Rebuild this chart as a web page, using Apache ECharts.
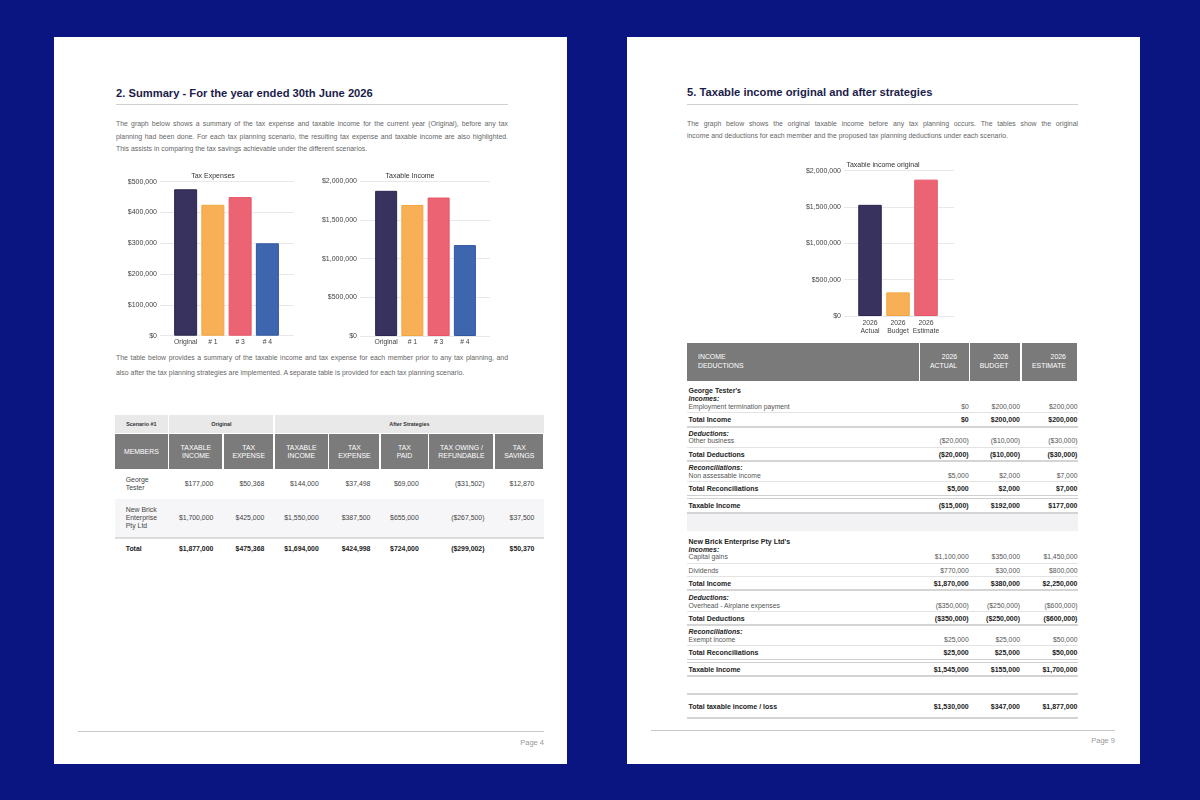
<!DOCTYPE html>
<html>
<head>
<meta charset="utf-8">
<script src="https://cdn.jsdelivr.net/npm/echarts@6/dist/echarts.min.js"></script>
<style>
  html, body { margin:0; padding:0; }
  body { width:1200px; height:800px; background:#0a1582; position:relative; overflow:hidden;
         font-family:'Liberation Sans', Arial, sans-serif; }
  .page { position:absolute; background:#fff; top:37px; height:727px; }
  .hd { position:absolute; font-weight:bold; font-size:11.2px; color:#1c1c4a; line-height:13px; white-space:nowrap; }
  .rule { position:absolute; height:0; border-top:1.5px solid #d0d0d0; }
  .pl { position:absolute; font-size:6.9px; color:#666; white-space:nowrap; line-height:10px;
        text-align:justify; text-align-last:justify; }
  .pl.last { text-align-last:left; text-align:left; }
  .foot { position:absolute; height:0; border-top:1px solid #c8c8c8; }
  .pg { position:absolute; width:100px; text-align:right; font-size:7.5px; color:#999; line-height:10px; }
  .chart { position:absolute; }

  /* left table */
  .lt { position:absolute; left:115px; top:415px; width:429px; font-size:6.9px; color:#444; }
  .lt .row { display:flex; }
  .lt .row > div { margin-right:1.7px; box-sizing:border-box; }
  .lt .row > div:last-child { margin-right:0; }
  .lt .r1 > div { height:18px; background:#e9e9e9; display:flex; align-items:center; justify-content:center;
                  font-size:5.4px; font-weight:bold; color:#333; }
  .lt .r2 { margin-top:1.3px; }
  .lt .r2 > div { height:35px; background:#7b7b7b; color:#fff; display:flex; align-items:center; justify-content:center;
                  text-align:center; line-height:8px; font-size:6.9px; }
  .lt .rd > div { display:flex; align-items:center; justify-content:flex-end; padding-right:9px; line-height:8px; }
  .lt .rd > div:first-child { justify-content:flex-start; padding-left:10.7px; padding-right:0; }
  .lt .w0 { width:52.7px; } .lt .w1 { width:53px; } .lt .w2 { width:49.3px; } .lt .w3 { width:52.7px; }
  .lt .w4 { width:50px; } .lt .w5 { width:46.7px; } .lt .w6 { width:64px; } .lt .w7 { width:48.3px; }
  .lt .g { height:30px; }
  .lt .nb { height:37.4px; background:#f6f6f8; }
  .lt .tl { height:2px; background:#dcdcdc; }
  .lt .tot { height:21.3px; font-weight:bold; color:#222; }

  /* right table */
  .rt { position:absolute; left:686.5px; top:343.3px; width:391px; font-size:6.8px; color:#555; }
  .rt .rh { display:flex; height:37.4px; }
  .rt .rh > div { background:#7a7a7a; color:#fff; font-size:6.9px; line-height:8.7px; display:flex; align-items:center; }
  .rt .rh .c0 { padding-left:11.5px; width:220.5px; }
  .rt .rh .c1, .rt .rh .c2, .rt .rh .c3 { justify-content:flex-end; text-align:right; padding-right:11.5px; box-sizing:border-box; }
  .rt .c0 { width:230px; padding-left:2px; margin-right:1.6px; }
  .rt .c1 { width:48.6px; margin-right:1.6px; text-align:right; }
  .rt .c2 { width:49.7px; margin-right:1.7px; text-align:right; }
  .rt .c3 { width:55.8px; text-align:right; }
  .rt .rr { display:flex; align-items:flex-end; box-sizing:border-box; line-height:7.6px; }
  .rt .thin { border-bottom:1px solid #e3e3e3; }
  .rt .thick { border-bottom:2px solid #d4d4d4; }
  .rt .dbl { border-bottom:4px double #cfcfcf; }
  .rt b { color:#222; font-size:7px; }
  .rt .bt { font-weight:bold; color:#222; font-size:7px; }
</style>
</head>
<body>

<div class="page" style="left:54px; width:513px;"></div>
<div class="page" style="left:627px; width:513px;"></div>

<!-- LEFT PAGE -->
<div class="hd" style="left:116px; top:86.8px;">2. Summary - For the year ended 30th June 2026</div>
<div class="rule" style="left:116px; top:103.6px; width:392px;"></div>
<div class="pl" style="left:116px; top:119.3px; width:392px;">The graph below shows a summary of the tax expense and taxable income for the current year (Original), before any tax</div>
<div class="pl" style="left:116px; top:131.7px; width:392px;">planning had been done. For each tax planning scenario, the resulting tax expense and taxable income are also highlighted.</div>
<div class="pl last" style="left:116px; top:144px; width:392px;">This assists in comparing the tax savings achievable under the different scenarios.</div>

<div id="c1" class="chart" style="left:110px; top:165px; width:200px; height:185px;"></div>
<div id="c2" class="chart" style="left:315px; top:165px; width:215px; height:185px;"></div>

<div class="pl" style="left:116px; top:353.3px; width:392px;">The table below provides a summary of the taxable income and tax expense for each member prior to any tax planning, and</div>
<div class="pl last" style="left:116px; top:367.5px; width:392px;">also after the tax planning strategies are implemented. A separate table is provided for each tax planning scenario.</div>

<div class="lt">
  <div class="row r1">
    <div style="width:52.7px;">Scenario #1</div>
    <div style="width:104px;">Original</div>
    <div style="width:268.5px;">After Strategies</div>
  </div>
  <div class="row r2">
    <div class="w0">MEMBERS</div>
    <div class="w1">TAXABLE<br>INCOME</div>
    <div class="w2">TAX<br>EXPENSE</div>
    <div class="w3">TAXABLE<br>INCOME</div>
    <div class="w4">TAX<br>EXPENSE</div>
    <div class="w5">TAX<br>PAID</div>
    <div class="w6">TAX OWING /<br>REFUNDABLE</div>
    <div class="w7">TAX<br>SAVINGS</div>
  </div>
  <div class="row rd g">
    <div class="w0">George<br>Tester</div>
    <div class="w1">$177,000</div><div class="w2">$50,368</div><div class="w3">$144,000</div>
    <div class="w4">$37,498</div><div class="w5">$69,000</div><div class="w6">($31,502)</div><div class="w7">$12,870</div>
  </div>
  <div class="row rd nb">
    <div class="w0">New Brick<br>Enterprise<br>Pty Ltd</div>
    <div class="w1">$1,700,000</div><div class="w2">$425,000</div><div class="w3">$1,550,000</div>
    <div class="w4">$387,500</div><div class="w5">$655,000</div><div class="w6">($267,500)</div><div class="w7">$37,500</div>
  </div>
  <div class="tl"></div>
  <div class="row rd tot">
    <div class="w0">Total</div>
    <div class="w1">$1,877,000</div><div class="w2">$475,368</div><div class="w3">$1,694,000</div>
    <div class="w4">$424,998</div><div class="w5">$724,000</div><div class="w6">($299,002)</div><div class="w7">$50,370</div>
  </div>
</div>

<div class="foot" style="left:78px; top:731px; width:466px;"></div>
<div class="pg" style="left:444px; top:737.7px;">Page 4</div>

<!-- RIGHT PAGE -->
<div class="hd" style="left:687px; top:86.2px;">5. Taxable income original and after strategies</div>
<div class="rule" style="left:687px; top:103.6px; width:391px;"></div>
<div class="pl" style="left:687px; top:118.7px; width:391px;">The graph below shows the original taxable income before any tax planning occurs. The tables show the original</div>
<div class="pl last" style="left:687px; top:131.3px; width:391px;">income and deductions for each member and the proposed tax planning deductions under each scenario.</div>

<div id="c3" class="chart" style="left:800px; top:150px; width:160px; height:190px;"></div>

<div class="rt">
  <div class="rh">
    <div class="c0">INCOME<br>DEDUCTIONS</div>
    <div class="c1">2026<br>ACTUAL</div>
    <div class="c2">2026<br>BUDGET</div>
    <div class="c3">2026<br>ESTIMATE</div>
  </div>
  <div class="rr thin" style="height:32.5px; padding-bottom:2px;">
    <div class="c0"><b>George Tester's</b><br><b><i>Incomes:</i></b><br>Employment termination payment</div>
    <div class="c1">$0</div><div class="c2">$200,000</div><div class="c3">$200,000</div>
  </div>
  <div class="rr thick bt" style="height:14.5px; padding-bottom:1.9px;">
    <div class="c0">Total Income</div><div class="c1">$0</div><div class="c2">$200,000</div><div class="c3">$200,000</div>
  </div>
  <div class="rr thin" style="height:20.2px; padding-bottom:2.6px; line-height:7px;">
    <div class="c0"><b><i>Deductions:</i></b><br>Other business</div>
    <div class="c1">($20,000)</div><div class="c2">($10,000)</div><div class="c3">($30,000)</div>
  </div>
  <div class="rr thick bt" style="height:14.1px; padding-bottom:1.8px;">
    <div class="c0">Total Deductions</div><div class="c1">($20,000)</div><div class="c2">($10,000)</div><div class="c3">($30,000)</div>
  </div>
  <div class="rr thin" style="height:20.5px; padding-bottom:2.2px; line-height:7.6px;">
    <div class="c0"><b><i>Reconciliations:</i></b><br>Non assessable income</div>
    <div class="c1">$5,000</div><div class="c2">$2,000</div><div class="c3">$7,000</div>
  </div>
  <div class="rr dbl bt" style="height:16.7px; padding-bottom:2.7px;">
    <div class="c0">Total Reconciliations</div><div class="c1">$5,000</div><div class="c2">$2,000</div><div class="c3">$7,000</div>
  </div>
  <div class="rr thick bt" style="height:14.8px; padding-bottom:2.8px;">
    <div class="c0">Taxable Income</div><div class="c1">($15,000)</div><div class="c2">$192,000</div><div class="c3">$177,000</div>
  </div>
  <div style="height:17.4px; background:#f2f2f4;"></div>
  <div class="rr thin" style="height:32.8px; padding-bottom:2px; line-height:7.7px;">
    <div class="c0"><b>New Brick Enterprise Pty Ltd's</b><br><b><i>Incomes:</i></b><br>Capital gains</div>
    <div class="c1">$1,100,000</div><div class="c2">$350,000</div><div class="c3">$1,450,000</div>
  </div>
  <div class="rr thin" style="height:13.3px; padding-bottom:2.3px;">
    <div class="c0">Dividends</div><div class="c1">$770,000</div><div class="c2">$30,000</div><div class="c3">$800,000</div>
  </div>
  <div class="rr thick bt" style="height:13.9px; padding-bottom:1.6px;">
    <div class="c0">Total Income</div><div class="c1">$1,870,000</div><div class="c2">$380,000</div><div class="c3">$2,250,000</div>
  </div>
  <div class="rr thin" style="height:21.1px; padding-bottom:2.3px; line-height:7.4px;">
    <div class="c0"><b><i>Deductions:</i></b><br>Overhead - Airplane expenses</div>
    <div class="c1">($350,000)</div><div class="c2">($250,000)</div><div class="c3">($600,000)</div>
  </div>
  <div class="rr thick bt" style="height:13.5px; padding-bottom:1.8px;">
    <div class="c0">Total Deductions</div><div class="c1">($350,000)</div><div class="c2">($250,000)</div><div class="c3">($600,000)</div>
  </div>
  <div class="rr thin" style="height:20.5px; padding-bottom:2.3px; line-height:7.4px;">
    <div class="c0"><b><i>Reconciliations:</i></b><br>Exempt income</div>
    <div class="c1">$25,000</div><div class="c2">$25,000</div><div class="c3">$50,000</div>
  </div>
  <div class="rr dbl bt" style="height:16.7px; padding-bottom:2.4px;">
    <div class="c0">Total Reconciliations</div><div class="c1">$25,000</div><div class="c2">$25,000</div><div class="c3">$50,000</div>
  </div>
  <div class="rr thick bt" style="height:14.2px; padding-bottom:1.6px;">
    <div class="c0">Taxable Income</div><div class="c1">$1,545,000</div><div class="c2">$155,000</div><div class="c3">$1,700,000</div>
  </div>
  <div class="rr thick" style="height:17.6px;"></div>
  <div class="rr thick bt" style="height:24px; padding-bottom:6.8px;">
    <div class="c0">Total taxable income / loss</div><div class="c1">$1,530,000</div><div class="c2">$347,000</div><div class="c3">$1,877,000</div>
  </div>
</div>

<div class="foot" style="left:651px; top:730px; width:464px;"></div>
<div class="pg" style="left:1015px; top:736px;">Page 9</div>

<script>
// ---- chart data ----
const scenarioCategories = ['Original', '# 1', '# 3', '# 4'];
const taxExpenseValues = [475368, 424998, 450000, 300000];
const taxableIncomeValues = [1877000, 1694000, 1790000, 1175000];
const yearCategories = ['2026\nActual', '2026\nBudget', '2026\nEstimate'];
const originalTaxableValues = [1530000, 325000, 1877000];
const taxExpenseAxis = { max: 500000, interval: 100000 };
const taxableAxis = { max: 2000000, interval: 500000 };

// ---- styles ----
const FONT = "'Liberation Sans', Arial, sans-serif";
const FILLS = ['#38325e', '#f7b055', '#ec6473', '#3e66ae'];
const BORDERS = ['#2c2650', '#f3a53f', '#e75566', '#3257a0'];

function money(v) { return '$' + v.toLocaleString('en-US'); }

function makeChart(id, cfg) {
  const chart = echarts.init(document.getElementById(id), null, { renderer: 'canvas' });
  const yBase = { type: 'value', min: 0, max: cfg.axis.max, interval: cfg.axis.interval };
  chart.setOption({
    animation: false,
    graphic: { elements: [{
      type: 'text', x: cfg.titleX, y: cfg.titleY,
      style: { text: cfg.title, fill: '#333', font: '7px ' + FONT,
               align: 'center', verticalAlign: 'middle', textAlign: 'center', textVerticalAlign: 'middle' }
    }] },
    grid: [
      { left: cfg.gl, top: cfg.gt, width: cfg.gw, height: cfg.gh },
      { left: cfg.bl, top: cfg.gt, width: cfg.bw, height: cfg.gh }
    ],
    xAxis: [
      { gridIndex: 0, type: 'value', show: false },
      { gridIndex: 1, type: 'category', data: cfg.categories,
        axisLine: { show: false }, axisTick: { show: false },
        axisLabel: { interval: 0, fontSize: 6.8, color: '#444', margin: cfg.xm, lineHeight: 8, fontFamily: FONT } }
    ],
    yAxis: [
      Object.assign({ gridIndex: 0 }, yBase, {
        axisLine: { show: false }, axisTick: { show: false },
        axisLabel: { fontSize: 7, color: '#444', margin: 3, formatter: money, fontFamily: FONT },
        splitLine: { lineStyle: { color: '#e8e8ec', width: 1 } }
      }),
      Object.assign({ gridIndex: 1 }, yBase, { show: false, splitLine: { show: false } })
    ],
    series: [{
      type: 'bar', xAxisIndex: 1, yAxisIndex: 1, barWidth: cfg.barWidth,
      data: cfg.values.map((v, i) => ({ value: v,
        itemStyle: { color: FILLS[i], borderColor: BORDERS[i], borderWidth: 1 } }))
    }]
  });
}

makeChart('c1', { title: 'Tax Expenses', titleX: 103, titleY: 10.7,
  categories: scenarioCategories, values: taxExpenseValues, axis: taxExpenseAxis,
  gl: 50, gw: 134, bl: 62, bw: 109, gt: 16.7, gh: 154, barWidth: 23, xm: 2.5 });

makeChart('c2', { title: 'Taxable Income', titleX: 95, titleY: 10.7,
  categories: scenarioCategories, values: taxableIncomeValues, axis: taxableAxis,
  gl: 45, gw: 130, bl: 58, bw: 105, gt: 16.3, gh: 154.7, barWidth: 22, xm: 2.5 });

makeChart('c3', { title: 'Taxable income original', titleX: 83, titleY: 15,
  categories: yearCategories, values: originalTaxableValues, axis: taxableAxis,
  gl: 44, gw: 110, bl: 56, bw: 84, gt: 20.7, gh: 145.3, barWidth: 23.5, xm: 3 });
</script>
</body>
</html>
